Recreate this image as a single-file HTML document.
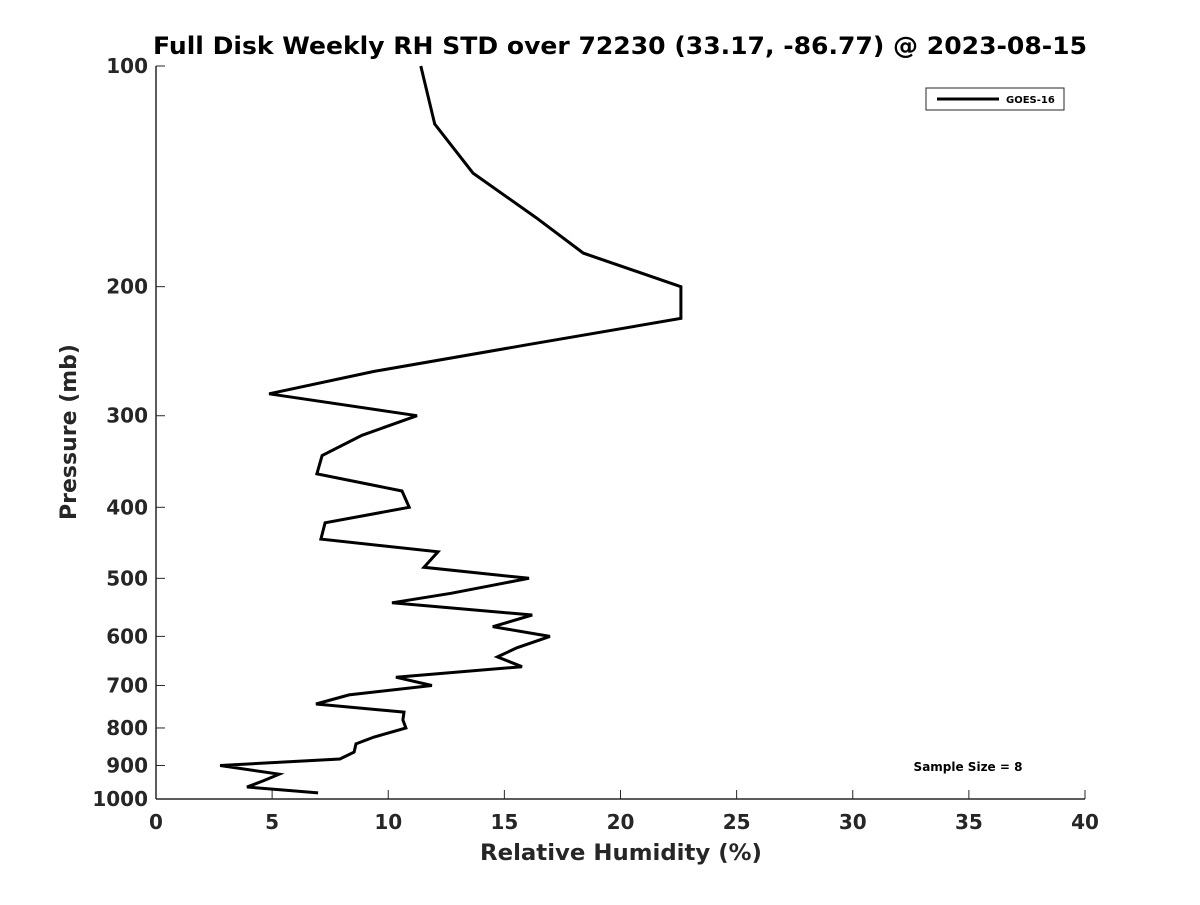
<!DOCTYPE html>
<html><head><meta charset="utf-8"><style>
body{margin:0;background:#fff}
svg text{font-family:"DejaVu Sans","Liberation Sans",sans-serif;font-weight:bold;fill:#262626}
</style></head><body>
<svg id="c" width="1200" height="900" viewBox="0 0 1200 900">
<rect width="1200" height="900" fill="#fff"/>
<text x="620" y="54" text-anchor="middle" font-size="24" textLength="934" lengthAdjust="spacingAndGlyphs" style="fill:#000">Full Disk Weekly RH STD over 72230 (33.17, -86.77) @ 2023-08-15</text>
<g id="axes"></g>
<path id="line" fill="none" stroke="#000" stroke-width="3" stroke-linejoin="miter"/>
<g>
<rect x="926" y="88" width="138" height="22" fill="#fff" stroke="#262626" stroke-width="1"/>
<line x1="937" y1="99" x2="999" y2="99" stroke="#000" stroke-width="3"/>
<text x="1006" y="103" font-size="10" style="fill:#000">GOES-16</text>
</g>
<text x="968" y="771" text-anchor="middle" font-size="12" style="fill:#000">Sample Size = 8</text>
<text x="621" y="860" text-anchor="middle" font-size="22" textLength="282" lengthAdjust="spacingAndGlyphs">Relative Humidity (%)</text>
<text transform="translate(76,432) rotate(-90)" text-anchor="middle" font-size="22">Pressure (mb)</text>
</svg>
<script>
const pressures=[100,120,140,161,180,200,221,240,261,280,300,319,340,360,380,400,420,442,460,483,500,524,540,561,582,600,622,640,660,682,700,721,742,761,780,800,823,841,863,882,900,925,945,963,981];
const rh=[11.4,12.0,13.65,16.36,18.4,22.6,22.6,16.0,9.39,4.87,11.24,8.87,7.15,6.93,10.59,10.9,7.28,7.1,12.14,11.54,16.06,12.7,10.16,16.2,14.5,16.96,15.54,14.7,15.76,10.33,11.88,8.31,6.89,10.68,10.63,10.76,9.39,8.61,8.53,7.92,2.76,5.3,4.6,3.92,6.98];
const xTicks=[0,5,10,15,20,25,30,35,40];
const yTicks=[100,200,300,400,500,600,700,800,900,1000];
const X0=156,X1=1085,Y0=66,Y1=799;
const xs=v=>X0+(v-0)/(40-0)*(X1-X0);
const ys=p=>Y0+(Math.log10(p)-2)*(Y1-Y0);
const NS='http://www.w3.org/2000/svg';
const ax=document.getElementById('axes');
function mk(t,a){const e=document.createElementNS(NS,t);for(const k in a)e.setAttribute(k,a[k]);ax.appendChild(e);return e;}
const yl=mk('line',{x1:X0,y1:Y0,x2:X0,y2:Y1,stroke:'#262626','stroke-width':1.5});


const xl=mk('line',{x1:X0,y1:Y1,x2:X1,y2:Y1,stroke:'#262626','stroke-width':1.5});


xTicks.forEach(v=>{
 const x=xs(v);
 mk('line',{x1:x,y1:Y1,x2:x,y2:Y1-9,stroke:'#262626','stroke-width':1});
 const t=mk('text',{x:x,y:Y1+30,'text-anchor':'middle','font-size':20});
 t.textContent=v;
 
 
});
yTicks.forEach(p=>{
 const y=ys(p);
 mk('line',{x1:X0,y1:y,x2:X0+9,y2:y,stroke:'#262626','stroke-width':1});
 const t=mk('text',{x:X0-8,y:y+7,'text-anchor':'end','font-size':20});
 t.textContent=p;
 
 
});
document.getElementById('line').setAttribute('d',pressures.map((p,i)=>(i?'L':'M')+xs(rh[i]).toFixed(1)+' '+ys(p).toFixed(1)).join(' '));
</script>
</body></html>
